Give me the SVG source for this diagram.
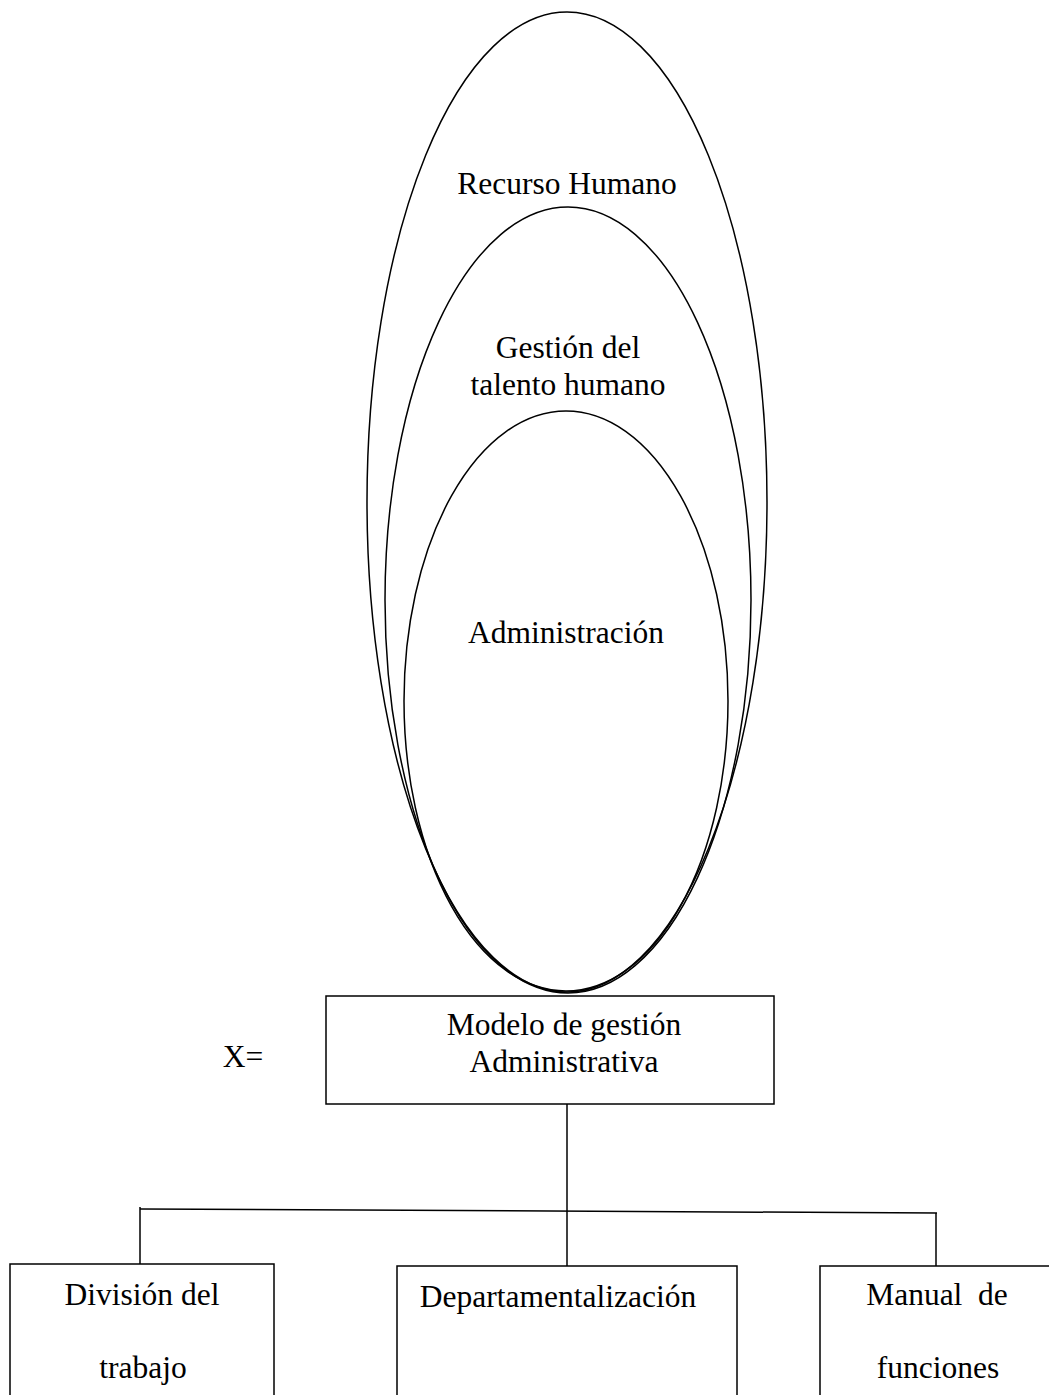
<svg xmlns="http://www.w3.org/2000/svg" width="1049" height="1395" viewBox="0 0 1049 1395">
<style>
.s{fill:none;stroke:#000;stroke-width:1.5}
.t{font-family:"Liberation Serif","Times New Roman","DejaVu Serif",serif;font-size:31.5px;fill:#000;text-anchor:middle;white-space:pre}
</style>
<rect width="1049" height="1395" fill="#fff"/>
<g id="recurso-humano">
<ellipse class="s" cx="567" cy="502" rx="200" ry="490"/>
<text class="t" x="567" y="194">Recurso Humano</text>
</g>
<g id="gestion-talento">
<ellipse class="s" cx="568" cy="600" rx="183" ry="393"/>
<text class="t" x="568" y="358">Gestión del</text>
<text class="t" x="568" y="395">talento humano</text>
</g>
<g id="administracion">
<ellipse class="s" cx="566" cy="701" rx="162" ry="290"/>
<text class="t" x="566" y="643">Administración</text>
</g>
<g id="x-label">
<text class="t" x="243" y="1067">X=</text>
</g>
<g id="modelo">
<rect class="s" x="326" y="996" width="448" height="108" fill="#fff"/>
<text class="t" x="564" y="1035">Modelo de gestión</text>
<text class="t" x="564" y="1072">Administrativa</text>
</g>
<g id="connectors">
<line class="s" x1="567" y1="1104" x2="567" y2="1266"/>
<line class="s" x1="140" y1="1209" x2="937" y2="1213"/>
<line class="s" x1="140" y1="1207" x2="140" y2="1264"/>
<line class="s" x1="936" y1="1213" x2="936" y2="1266"/>
</g>
<g id="division">
<rect class="s" x="10" y="1264" width="264" height="140"/>
<text class="t" x="142" y="1305">División del</text>
<text class="t" x="143" y="1378">trabajo</text>
</g>
<g id="departamentalizacion">
<rect class="s" x="397" y="1266" width="340" height="140"/>
<text class="t" x="558" y="1307">Departamentalización</text>
</g>
<g id="manual">
<rect class="s" x="820" y="1266" width="240" height="140"/>
<text class="t" x="937" y="1305" xml:space="preserve">Manual  de</text>
<text class="t" x="938" y="1378">funciones</text>
</g>
</svg>
